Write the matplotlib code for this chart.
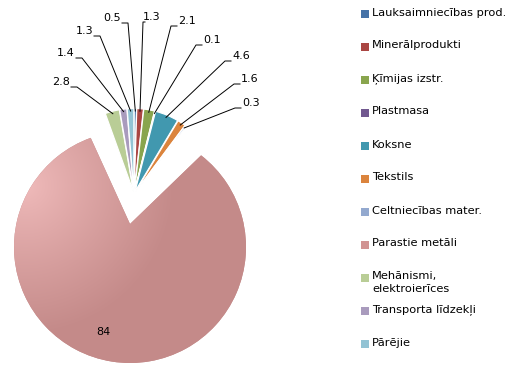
import numpy as np
import matplotlib
matplotlib.use('Agg')
import matplotlib.pyplot as plt
from matplotlib.patches import Rectangle, PathPatch
from matplotlib.path import Path
from matplotlib.colors import to_rgb

categories = ['Lauksaimniecības prod.', 'Minerālprodukti', 'Ķīmijas izstr.', 'Plastmasa',
              'Koksne', 'Tekstils', 'Celtniecības mater.', 'Parastie metāli',
              'Mehānismi,\nelektroierīces', 'Transporta līdzekļi', 'Pārējie']
values = [0.5, 1.3, 2.1, 0.1, 4.6, 1.6, 0.3, 84, 2.8, 1.4, 1.3]
value_labels = ['0.5', '1.3', '2.1', '0.1', '4.6', '1.6', '0.3', '84', '2.8', '1.4', '1.3']
colors = ['#4572A7', '#AA4643', '#89A54E', '#71588F', '#4198AF', '#DB843D',
          '#93A9CF', '#C48A89', '#B9CD96', '#A99BBD', '#92C3D4']
legend_colors = ['#4572A7', '#AA4643', '#89A54E', '#71588F', '#4198AF', '#DB843D',
                 '#93A9CF', '#D19392', '#B9CD96', '#A99BBD', '#92C3D4']

# label placement (pixel coords from top-left): side, x, y
label_pos = [('right', 121, 18), ('left', 143, 17), ('left', 178, 21), ('left', 203, 40),
             ('left', 232, 56), ('left', 241, 79), ('left', 242, 103), ('center', 103, 332),
             ('right', 70, 82), ('right', 75, 53), ('right', 93, 31)]

W, H = 510, 366
fig = plt.figure(figsize=(W / 100, H / 100), dpi=100)
ax = fig.add_axes([0, 0, 1, 1])

big_c = (130, H - 247)
big_r = 116
notch = (130, H - 224)
small_c = (134, H - 194)
small_r = 83
small_shift = 2.5

wedges, _ = ax.pie(values, colors=colors, startangle=90, counterclock=False,
                   radius=big_r, center=big_c,
                   wedgeprops=dict(linewidth=0.9, edgecolor='white'))
big = int(np.argmax(values))
for i, w in enumerate(wedges):
    if i != big:
        mid = np.deg2rad((w.theta1 + w.theta2) / 2)
        w.set_center((small_c[0] + small_shift * np.cos(mid),
                      small_c[1] + small_shift * np.sin(mid)))
        w.set_radius(small_r)

# large slice with perspective-like notch
bw = wedges[big]
path = bw.get_path()
verts = path.vertices.copy()
m = np.all(np.abs(verts - np.array(big_c)) < 1e-6, axis=1)
verts[m] = notch
bpatch = PathPatch(Path(verts, path.codes), facecolor=colors[big], edgecolor='none', zorder=1)
ax.add_patch(bpatch)
bw.set_visible(False)

xs = np.linspace(10, 250, 240)
ys = np.linspace(0, 270, 270)
X, Y = np.meshgrid(xs, ys)
d = np.hypot(X - 25, Y - (H - 185))
t = np.clip(d / 150, 0, 1) ** 0.9
light = np.array(to_rgb('#F0BBBB'))
dark = np.array(to_rgb('#C48A89'))
img = light * (1 - t)[..., None] + dark * t[..., None]
im = ax.imshow(img, extent=(10, 250, 0, 270), origin='lower', zorder=1.5, interpolation='bilinear')
im.set_clip_path(bpatch)

# value labels with leader lines
for i, (w, lab, (side, x, y)) in enumerate(zip(wedges, value_labels, label_pos)):
    yd = H - y
    if side == 'center':
        ax.text(x, yd, lab, ha='center', va='center', fontsize=8, color='black', zorder=5)
        continue
    mid = np.deg2rad((w.theta1 + w.theta2) / 2)
    cx, cy = w.center
    tx = cx + w.r * 0.97 * np.cos(mid)
    ty = cy + w.r * 0.97 * np.sin(mid)
    if side == 'right':
        ax.text(x, yd, lab, ha='right', va='center', fontsize=8, zorder=5)
        pts = [(x + 1, yd - 5), (x + 7, yd - 5), (tx, ty)]
    else:
        ax.text(x, yd, lab, ha='left', va='center', fontsize=8, zorder=5)
        if i == 1:
            pts = [(x + 2, yd - 5), (x, yd - 5), (tx, ty)]
        else:
            pts = [(x - 1, yd - 5), (x - 7, yd - 5), (tx, ty)]
    pts = np.array(pts)
    ax.plot(pts[:, 0], pts[:, 1], color='black', lw=0.7, zorder=4)

# legend
for i, (cat, col) in enumerate(zip(categories, legend_colors)):
    yc = H - (14 + 33 * i)
    ax.add_patch(Rectangle((361, yc - 4), 8, 8, facecolor=col, edgecolor='none'))
    ax.text(372, yc + 6.5, cat, ha='left', va='top', fontsize=8.2, color='black',
            linespacing=1.35)

ax.set_xlim(0, W)
ax.set_ylim(0, H)
ax.set_aspect('auto')
ax.axis('off')
fig.savefig('out.png', dpi=100)
